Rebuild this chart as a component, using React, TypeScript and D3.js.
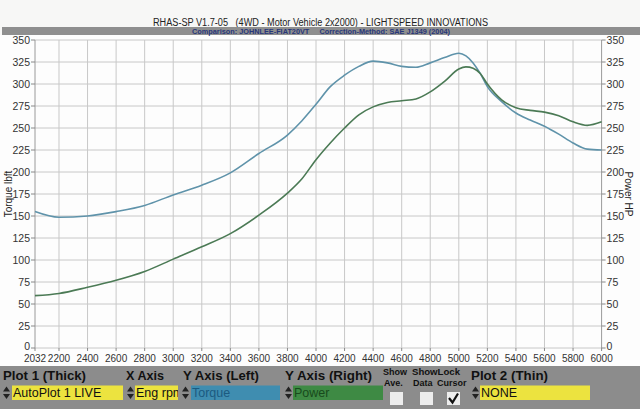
import React from "react";
import * as d3 from "d3";

const rpm = [2032, 2200, 2400, 2600, 2800, 3000, 3200, 3400, 3600, 3800, 3900, 4000, 4100, 4200, 4300, 4400, 4500, 4600, 4700, 4800, 4900, 5000, 5050, 5100, 5150, 5200, 5300, 5400, 5500, 5600, 5700, 5800, 5900, 6000];
const torque = [155, 148.5, 150, 155, 162, 174, 185, 199, 221, 242, 258, 277, 297, 310, 320, 326, 324, 320, 319, 324, 330, 335, 332, 324, 312, 297, 280, 267, 259, 252, 243, 233, 226, 225];
const power = [59.5, 62, 69, 77, 87, 101, 115, 130, 151, 176, 192, 214, 233, 250, 265, 274, 279, 281, 283, 291, 303, 317, 319.5, 318, 312, 300, 282, 273, 270, 268, 264, 257, 253, 257];
const xTicks = [2032, 2200, 2400, 2600, 2800, 3000, 3200, 3400, 3600, 3800, 4000, 4200, 4400, 4600, 4800, 5000, 5200, 5400, 5600, 5800, 6000];
const yTicks = [0, 25, 50, 75, 100, 125, 150, 175, 200, 225, 250, 275, 300, 325, 350];

const title = "RHAS-SP V1.7-05   (4WD - Motor Vehicle 2x2000) - LIGHTSPEED INNOVATIONS";
const subtitle = "Comparison: JOHNLEE-FIAT20VT     Correction-Method: SAE J1349 (2004)";

const FONT = "'Liberation Sans', Arial, sans-serif";

function Spinner({ x, y }: { x: number; y: number }) {
  return (
    <g fill="#222">
      <path d={`M${x},${y + 6} L${x + 3.5},${y + 1} L${x + 7},${y + 6} Z`} />
      <path d={`M${x},${y + 8.5} L${x + 3.5},${y + 13.5} L${x + 7},${y + 8.5} Z`} />
    </g>
  );
}

export default function App() {
  const x = d3.scaleLinear().domain([2032, 6000]).range([35, 601.6]);
  const y = d3.scaleLinear().domain([0, 350]).range([348, 40]);
  const pts = rpm.map((r, i) => ({ r, t: torque[i], p: power[i] }));
  const tLine = d3.line<any>().x((d) => x(d.r)).y((d) => y(d.t)).curve(d3.curveMonotoneX)(pts) || "";
  const pLine = d3.line<any>().x((d) => x(d.r)).y((d) => y(d.p)).curve(d3.curveMonotoneX)(pts) || "";

  const boxY = 385.5;
  const boxH = 14.5;

  return (
    <div style={{ position: "fixed", left: 0, top: 0 }}>
      <svg width={640} height={409} style={{ display: "block", fontFamily: FONT }}>
        <rect x={0} y={0} width={640} height={409} fill="#f7f7f6" />
        <rect x={0} y={35} width={640} height={331} fill="#fdfdfd" />
        {/* title */}
        <text x={320.5} y={26} textAnchor="middle" fontSize={10} fill="#222" textLength={335} lengthAdjust="spacingAndGlyphs" style={{ whiteSpace: "pre" }}>{title}</text>
        <rect x={2} y={27} width={638} height={8} fill="#8f8f8f" />
        <text x={321} y={34} textAnchor="middle" fontSize={7.5} fontWeight="bold" fill="#27367a" textLength={258} lengthAdjust="spacingAndGlyphs" style={{ whiteSpace: "pre" }}>{subtitle}</text>

        {/* grid */}
        {xTicks.slice(1, -1).map((t) => (
          <line key={"gx" + t} x1={x(t)} x2={x(t)} y1={y(350)} y2={y(0)} stroke="#c8c8c8" strokeWidth={1} />
        ))}
        {yTicks.map((t) => (
          <line key={"gy" + t} x1={x(2032)} x2={x(6000)} y1={y(t)} y2={y(t)} stroke="#c8c8c8" strokeWidth={1} />
        ))}
        <line x1={x(2032)} x2={x(2032)} y1={y(350)} y2={y(0)} stroke="#9a9a9a" />
        <line x1={x(6000)} x2={x(6000)} y1={y(350)} y2={y(0)} stroke="#9a9a9a" />

        {/* left axis */}
        {yTicks.map((t) => (
          <g key={"ly" + t}>
            <line x1={x(2032) - 4} x2={x(2032)} y1={y(t)} y2={y(t)} stroke="#888" />
            <text x={x(2032) - 5} y={y(t) + (t === 0 ? 2 : 4)} textAnchor="end" fontSize={10.5} fill="#333">{t}</text>
          </g>
        ))}
        {/* right axis */}
        {yTicks.map((t) => (
          <g key={"ry" + t}>
            <line x1={x(6000)} x2={x(6000) + 4} y1={y(t)} y2={y(t)} stroke="#888" />
            <text x={x(6000) + 5} y={y(t) + (t === 0 ? 2 : 4)} textAnchor="start" fontSize={10.5} fill="#333">{t}</text>
          </g>
        ))}
        {/* x axis */}
        {xTicks.map((t) => (
          <g key={"xt" + t}>
            <line x1={x(t)} x2={x(t)} y1={y(0)} y2={y(0) + 3} stroke="#888" />
            <text x={x(t)} y={362} textAnchor="middle" fontSize={10} fill="#333">{t}</text>
          </g>
        ))}
        <text transform={`translate(12,194) rotate(-90)`} textAnchor="middle" fontSize={10} fill="#222">Torque lbft</text>
        <text transform={`translate(624.5,194) rotate(90)`} textAnchor="middle" fontSize={10} fill="#222">Power HP</text>

        {/* curves */}
        <path d={tLine} fill="none" stroke="#5f93aa" strokeWidth={1.6} />
        <path d={pLine} fill="none" stroke="#4b7a55" strokeWidth={1.6} />

        {/* bottom panel */}
        <rect x={0} y={366} width={640} height={43} fill="#8c8c8c" />
        <g fontWeight="bold" fontSize={12.5} fill="#111">
          <text x={3} y={379.5} textLength={83} lengthAdjust="spacingAndGlyphs">Plot 1 (Thick)</text>
          <text x={126} y={379.5} textLength={38} lengthAdjust="spacingAndGlyphs">X Axis</text>
          <text x={183} y={379.5} textLength={76} lengthAdjust="spacingAndGlyphs">Y Axis (Left)</text>
          <text x={285} y={379.5} textLength={87} lengthAdjust="spacingAndGlyphs">Y Axis (Right)</text>
          <text x={471} y={379.5} textLength={77} lengthAdjust="spacingAndGlyphs">Plot 2 (Thin)</text>
        </g>
        <g fontWeight="bold" fontSize={9} fill="#111">
          <text x={383} y={375}>Show</text>
          <text x={384} y={386}>Ave.</text>
          <text x={412} y={375} textLength={48} lengthAdjust="spacingAndGlyphs">ShowLock</text>
          <text x={413} y={386}>Data</text>
          <text x={437} y={386}>Cursor</text>
        </g>
        <defs>
          <clipPath id="engclip"><rect x={135} y={boxY} width={43} height={boxH} /></clipPath>
        </defs>
        <Spinner x={3} y={boxY} />
        <rect x={12} y={boxY} width={111} height={boxH} fill="#ece33f" />
        <text x={13} y={boxY + 11.5} fontSize={12.5} fill="#111">AutoPlot 1 LIVE</text>
        <Spinner x={127} y={boxY} />
        <rect x={135} y={boxY} width={43} height={boxH} fill="#ece33f" />
        <text x={136} y={boxY + 11.5} fontSize={12.5} fill="#111" clipPath="url(#engclip)">Eng rpm</text>
        <Spinner x={182} y={boxY} />
        <rect x={191} y={boxY} width={89} height={boxH} fill="#3f8db0" />
        <text x={192} y={boxY + 11.5} fontSize={12.5} fill="#1b5a80">Torque</text>
        <Spinner x={285} y={boxY} />
        <rect x={293} y={boxY} width={90} height={boxH} fill="#3e8a44" />
        <text x={294} y={boxY + 11.5} fontSize={12.5} fill="#184a1c">Power</text>
        <rect x={390} y={392} width={13} height={13} fill="#ededed" />
        <rect x={420} y={392} width={13} height={13} fill="#ededed" />
        <rect x={447} y={392} width={13} height={13} fill="#ededed" />
        <path d="M449,398 L452.5,402.5 L458,393.5" fill="none" stroke="#111" strokeWidth={2.2} />
        <Spinner x={472} y={boxY} />
        <rect x={480} y={boxY} width={110} height={boxH} fill="#ece33f" />
        <text x={481} y={boxY + 11.5} fontSize={12.5} fill="#111">NONE</text>
      </svg>
    </div>
  );
}
